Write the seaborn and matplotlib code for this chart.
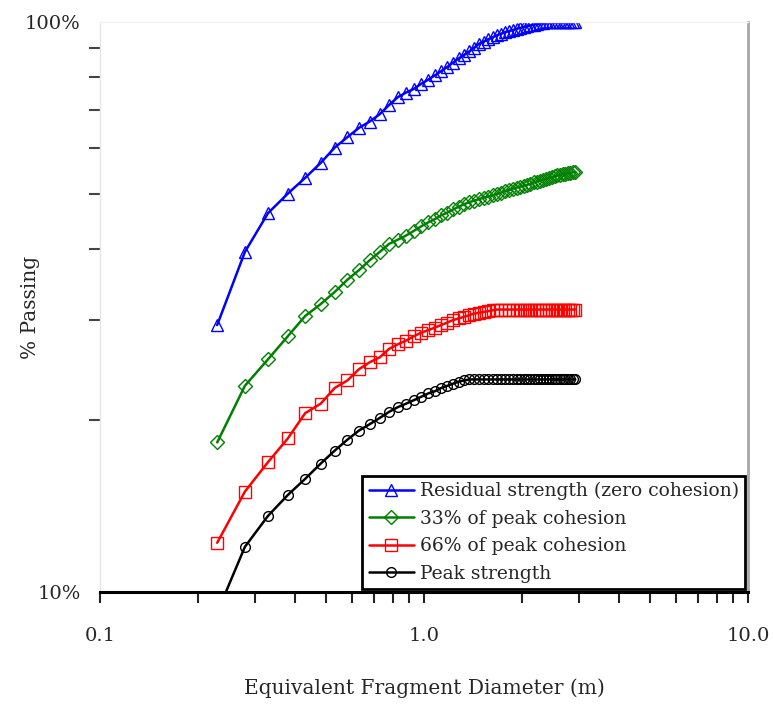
import matplotlib
matplotlib.use("Agg")
import matplotlib.pyplot as plt
import matplotlib.ticker as mticker
import numpy as np
import pandas as pd
import seaborn as sns

# Equivalent fragment diameter (m), shared by all four runs
diameter = [0.23, 0.28, 0.33, 0.38, 0.43, 0.48, 0.53, 0.58, 0.63, 0.68,
            0.73, 0.78, 0.83, 0.88, 0.93, 0.98, 1.03, 1.08, 1.13, 1.18,
            1.23, 1.28, 1.33, 1.38, 1.43, 1.48, 1.53, 1.58, 1.63, 1.68,
            1.73, 1.78, 1.83, 1.88, 1.93, 1.98, 2.03, 2.08, 2.13, 2.18,
            2.23, 2.28, 2.33, 2.38, 2.43, 2.48, 2.53, 2.58, 2.63, 2.68,
            2.73, 2.78, 2.83, 2.88, 2.93]

# Cumulative % passing for each strength case
residual = [29.4, 39.5, 46.2, 50.0, 53.3, 56.6, 60.2, 62.8, 65.2, 66.9,
            68.9, 71.5, 73.8, 75.2, 76.3, 77.9, 79.2, 80.6, 82.0, 83.4,
            84.9, 86.3, 87.6, 88.8, 90.2, 91.6, 92.4, 93.3, 94.0, 94.8,
            95.4, 96.0, 96.4, 96.8, 97.3, 97.6, 98.0, 98.3, 98.6, 98.9,
            99.2, 99.4, 99.6, 99.8, 99.9, 100.0, 100.0, 100.0, 100.0, 100.0,
            100.0, 100.0, 100.0, 100.0, 100.0]
cohesion_33 = [18.3, 23.0, 25.6, 28.1, 30.5, 32.0, 33.6, 35.3, 36.7, 38.2,
               39.5, 40.8, 41.5, 42.2, 43.0, 43.8, 44.5, 45.1, 45.8, 46.3,
               46.9, 47.4, 47.9, 48.3, 48.6, 48.9, 49.2, 49.4, 49.7, 49.9,
               50.2, 50.5, 50.7, 51.0, 51.2, 51.4, 51.6, 51.8, 52.0, 52.3,
               52.5, 52.7, 52.9, 53.1, 53.3, 53.4, 53.6, 53.8, 53.9, 54.1,
               54.2, 54.3, 54.4, 54.5, 54.5]
cohesion_66 = [12.2, 15.0, 16.9, 18.6, 20.6, 21.4, 22.8, 23.5, 24.6, 25.3,
               25.8, 26.7, 27.2, 27.6, 28.1, 28.5, 28.8, 29.1, 29.4, 29.7,
               30.0, 30.2, 30.4, 30.6, 30.8, 30.9, 31.0, 31.1, 31.2, 31.3,
               31.3, 31.3, 31.3, 31.3, 31.3, 31.3, 31.3, 31.3, 31.3, 31.3,
               31.3, 31.3, 31.3, 31.3, 31.3, 31.3, 31.3, 31.3, 31.3, 31.3,
               31.3, 31.3, 31.3, 31.3, 31.3]
peak = [9.2, 12.0, 13.6, 14.8, 15.8, 16.8, 17.7, 18.5, 19.2, 19.7,
        20.2, 20.7, 21.1, 21.4, 21.7, 22.0, 22.3, 22.5, 22.8, 23.0,
        23.2, 23.4, 23.5, 23.6, 23.6, 23.6, 23.6, 23.6, 23.6, 23.6,
        23.6, 23.6, 23.6, 23.6, 23.6, 23.6, 23.6, 23.6, 23.6, 23.6,
        23.6, 23.6, 23.6, 23.6, 23.6, 23.6, 23.6, 23.6, 23.6, 23.6,
        23.6, 23.6, 23.6, 23.6, 23.6]

series_names = ["Residual strength (zero cohesion)", "33% of peak cohesion",
                "66% of peak cohesion", "Peak strength"]
series_values = [residual, cohesion_33, cohesion_66, peak]
series_colors = ["#0000ff", "#008000", "#ff0000", "#000000"]
series_markers = ["^", "D", "s", "o"]
series_msize = [8, 7, 8, 7]

x_tick_labels = ["0.1", "1.0", "10.0"]
y_tick_labels = ["10%", "100%"]

sns.set_style("white")
plt.rcParams["font.family"] = ["DejaVu Serif", "Liberation Serif"]

fig = plt.figure(figsize=(7.73, 7.04), dpi=100)
ax = fig.add_axes([100 / 773, 112 / 704, 648 / 773, 570 / 704])

for name, vals, col, mk, ms in zip(series_names, series_values, series_colors,
                                   series_markers, series_msize):
    df = pd.DataFrame({"d": diameter, "p": vals})
    sns.lineplot(data=df, x="d", y="p", ax=ax, color=col, marker=mk,
                 markersize=ms, markerfacecolor="none", markeredgecolor=col,
                 markeredgewidth=1.0, linewidth=1.8, label=name,
                 sort=False, estimator=None)

ax.set_xscale("log")
ax.set_yscale("log")
ax.set_xlim(0.1, 10)
ax.set_ylim(10, 100)

ax.xaxis.set_major_locator(mticker.FixedLocator([0.1, 1, 10]))
ax.xaxis.set_major_formatter(mticker.FixedFormatter(x_tick_labels))
ax.xaxis.set_minor_locator(mticker.LogLocator(base=10, subs=np.arange(2, 10)))
ax.xaxis.set_minor_formatter(mticker.NullFormatter())

ax.yaxis.set_major_locator(mticker.FixedLocator([10, 100]))
ax.yaxis.set_major_formatter(mticker.FixedFormatter(y_tick_labels))
ax.yaxis.set_minor_locator(mticker.LogLocator(base=10, subs=np.arange(2, 10)))
ax.yaxis.set_minor_formatter(mticker.NullFormatter())

ax.tick_params(axis="x", which="both", direction="out", length=8, width=1.5,
               color="#222222", bottom=True, labelsize=14, pad=17)
ax.tick_params(axis="y", which="both", direction="out", length=8, width=1.5,
               color="#444444", left=True, labelsize=14, pad=14)
ax.tick_params(axis="y", which="major", length=0)

for side, col, lw in [("left", "#e6e6e6", 1.0), ("top", "#f2f2f2", 1.0),
                      ("right", "#a8a8a8", 2.0), ("bottom", "#000000", 2.2)]:
    ax.spines[side].set_visible(True)
    ax.spines[side].set_color(col)
    ax.spines[side].set_linewidth(lw)

ax.set_xlabel("Equivalent Fragment Diameter (m)", fontsize=14.5)
ax.set_ylabel("% Passing", fontsize=14.5)
ax.xaxis.set_label_coords(0.5, -0.152)
ax.yaxis.set_label_coords(-0.093, 0.5)

leg = ax.legend(loc="lower right", fontsize=13.5, frameon=True, fancybox=False,
                edgecolor="#000000", framealpha=1, borderaxespad=0.15,
                handlelength=2.4, handletextpad=0.3, labelspacing=0.5,
                borderpad=0.35)
leg.get_frame().set_linewidth(2.0)

fig.savefig("out.png", dpi=100)
